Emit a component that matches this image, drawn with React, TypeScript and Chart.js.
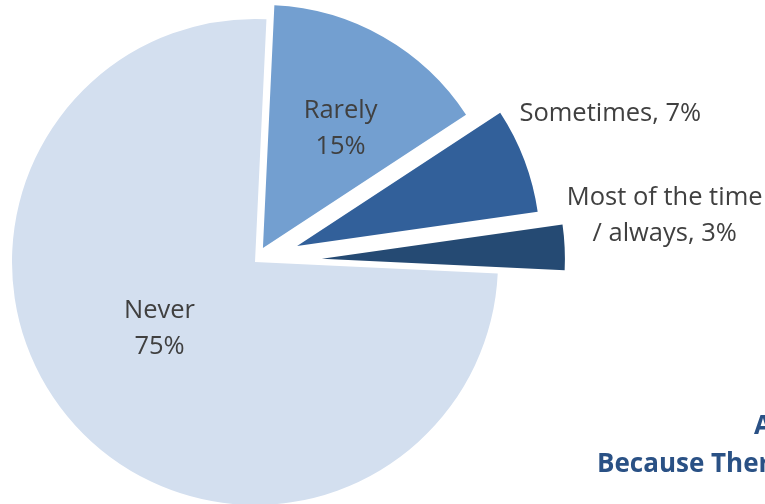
import React, { useEffect, useRef } from "react";
import { Chart, registerables } from "chart.js";

Chart.register(...registerables);

const categories = ["Rarely", "Sometimes", "Most of the time / always", "Never"];
const values = [15, 7, 3, 75];
const labelLines = [["Rarely", "15%"], ["Sometimes, 7%"], ["Most of the time", "/ always, 3%"], ["Never", "75%"]];
const colors = ["#739FD0", "#32609A", "#254A73", "#D3DFEF"];
// Chart.js moves a slice by offset/4
const explode = [64, 180, 268, 0];
const titleLines = ["A", "Because There"];

const FONT = "'Open Sans', Carlito, Calibri, sans-serif";
const RADIUS = 243;

const labelPlace: Array<{ r: number; dx: number; dy: number; align: CanvasTextAlign }> = [
  { r: 0.62, dx: 3, dy: 12, align: "center" },
  { r: 1.0, dx: -5, dy: -46, align: "left" },
  { r: 1.0, dx: 100, dy: -32, align: "center" },
  { r: 0.47, dx: -11, dy: -10, align: "center" },
];

// Keep every exploded slice at the same visible radius and full angular size
const radiusPlugin = {
  id: "equalRadius",
  afterDatasetsUpdate(chart: any) {
    const meta = chart.getDatasetMeta(0);
    meta.data.forEach((arc: any) => {
      const shift = (arc.options.offset || 0) / 4;
      const fix = 1 - Math.sin(Math.min(Math.PI, arc.circumference || 0));
      const ro = shift * fix;
      arc.outerRadius = RADIUS - ro;
      const widen = ro / (Math.PI * RADIUS) / 2;
      arc.startAngle -= widen;
      arc.endAngle += widen;
    });
  },
};

const labelPlugin = {
  id: "sliceLabels",
  afterDatasetsDraw(chart: any) {
    const ctx = chart.ctx;
    const meta = chart.getDatasetMeta(0);
    ctx.save();
    ctx.font = `25.5px ${FONT}`;
    ctx.fillStyle = "#404040";
    ctx.textBaseline = "middle";
    meta.data.forEach((arc: any, i: number) => {
      const p = arc.getProps(["x", "y", "startAngle", "endAngle"], true);
      const mid = (p.startAngle + p.endAngle) / 2;
      const shift = (arc.options.offset || 0) / 4;
      const cx = p.x + Math.cos(mid) * shift;
      const cy = p.y + Math.sin(mid) * shift;
      const pl = labelPlace[i];
      const x = cx + Math.cos(mid) * RADIUS * pl.r + pl.dx;
      const y = cy + Math.sin(mid) * RADIUS * pl.r + pl.dy;
      const lines = labelLines[i];
      const lh = 36;
      ctx.textAlign = pl.align;
      lines.forEach((ln, k) => {
        ctx.fillText(ln, x, y + (k - (lines.length - 1) / 2) * lh);
      });
    });
    ctx.font = `bold 26px ${FONT}`;
    ctx.fillStyle = "#2A5185";
    ctx.textAlign = "left";
    ctx.fillText(titleLines[0], 754, 427);
    ctx.fillText(titleLines[1], 597, 465);
    ctx.restore();
  },
};

export default function App() {
  const ref = useRef<HTMLCanvasElement | null>(null);
  useEffect(() => {
    if (!ref.current) return;
    const chart = new Chart(ref.current, {
      type: "pie",
      data: {
        labels: categories,
        datasets: [
          {
            data: values,
            backgroundColor: colors,
            borderWidth: 0,
            offset: explode,
          },
        ],
      },
      options: {
        responsive: false,
        animation: false,
        rotation: 2.7,
        radius: RADIUS,
        layout: { padding: { left: 0, right: 255, top: 20, bottom: 0 } },
        plugins: { legend: { display: false }, tooltip: { enabled: false }, title: { display: false } },
      },
      plugins: [radiusPlugin, labelPlugin],
    });
    return () => chart.destroy();
  }, []);
  return (
    <div style={{ position: "fixed", left: 0, top: 0, width: 765, height: 504, background: "#fff" }}>
      <canvas ref={ref} width={765} height={504} style={{ display: "block" }} />
    </div>
  );
}
